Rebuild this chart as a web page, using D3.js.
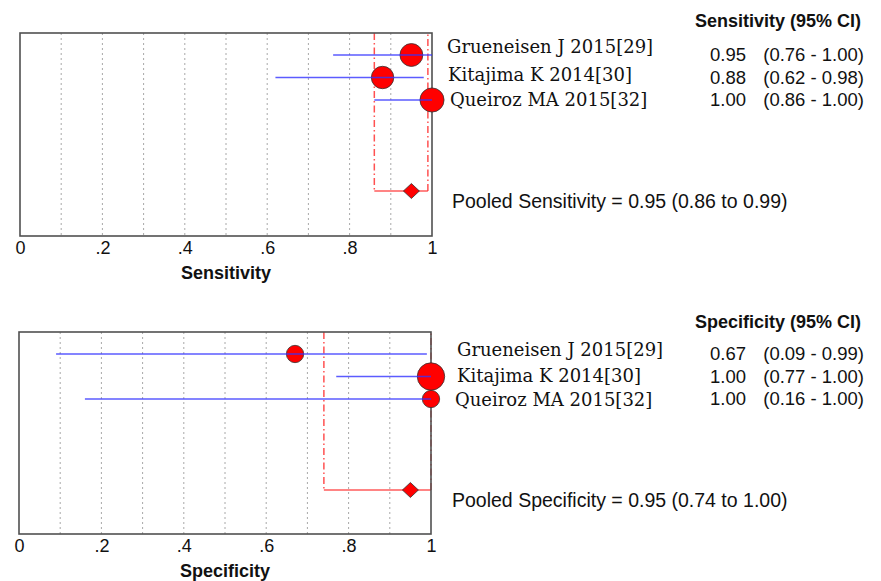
<!DOCTYPE html>
<html>
<head>
<meta charset="utf-8">
<script src="https://cdn.jsdelivr.net/npm/d3@7"></script>
<style>
  body { margin: 0; background: #fff; }
  .grat line { stroke: #a8a8a8; stroke-dasharray: 2,3; }
  .study { font-family: "DejaVu Serif", serif; font-size: 18px; fill: #111; }
  .val { font-family: "Liberation Sans", Arial, sans-serif; font-size: 18.5px; fill: #111; }
  .pooled { font-family: "Liberation Sans", Arial, sans-serif; font-size: 19.5px; fill: #111; }
  .hdr { font-family: "Liberation Sans", Arial, sans-serif; font-size: 18px; font-weight: bold; fill: #111; }
  .tick text { font-family: "Liberation Sans", Arial, sans-serif; font-size: 18px; fill: #111; }
  .xtitle { font-family: "Liberation Sans", Arial, sans-serif; font-size: 18px; font-weight: bold; fill: #111; }
</style>
</head>
<body>
<svg id="chart" width="881" height="581"></svg>
<script>
var studies = ["Grueneisen J 2015[29]", "Kitajima K 2014[30]", "Queiroz MA 2015[32]"];

var sens = [0.95, 0.88, 1.00];
var sensLo = [0.76, 0.62, 0.86];
var sensHi = [1.00, 0.98, 1.00];
var sensWeight = [1.08, 1.04, 1.2];
var pooledSens = [0.95, 0.86, 0.99];

var spec = [0.67, 1.00, 1.00];
var specLo = [0.09, 0.77, 0.16];
var specHi = [0.99, 1.00, 1.00];
var specWeight = [0.62, 1.55, 0.62];
var pooledSpec = [0.95, 0.74, 1.00];

var tickVals = [0, 0.2, 0.4, 0.6, 0.8, 1];
var gridVals = [0.1, 0.2, 0.3, 0.4, 0.5, 0.6, 0.7, 0.8, 0.9];

var svg = d3.select("#chart");
var fmt = d3.format(".2f");

function drawPanel(opt){
    var top = opt.top, bottom = opt.bottom;
    var x = d3.scaleLinear().domain([0, 1]).range([opt.left, opt.right]);
    var y = d3.scalePoint().domain(studies).range([opt.rowTop, opt.rowBottom]);
    var r = d3.scaleSqrt().domain([0, 1]).range([0, 11]);
    var g = svg.append("g");

    // dotted grid
    g.append("g").attr("class", "grat")
      .selectAll("line").data(gridVals).enter().append("line")
      .attr("x1", function(d){ return x(d); }).attr("x2", function(d){ return x(d); })
      .attr("y1", top).attr("y2", bottom);

    // pooled CI bracket
    var pl = opt.pooled;
    g.append("path")
      .attr("d", "M" + x(pl[1]) + "," + top + "V" + opt.pooledY + "M" + x(pl[2]) + "," + opt.pooledY + "V" + top)
      .attr("fill", "none").attr("stroke", "#f33").attr("stroke-opacity", 0.85)
      .attr("stroke-width", 1.5).attr("stroke-dasharray", "7,3,1.5,3");
    g.append("line")
      .attr("x1", x(pl[1])).attr("x2", x(pl[2]))
      .attr("y1", opt.pooledY).attr("y2", opt.pooledY)
      .attr("stroke", "#f33").attr("stroke-opacity", 0.8).attr("stroke-width", 1.4);

    // frame
    g.append("rect")
      .attr("x", opt.left).attr("y", top)
      .attr("width", opt.right - opt.left).attr("height", bottom - top)
      .attr("fill", "none").attr("stroke", "#505050").attr("stroke-width", 1.6);

    // circles first, CI lines on top
    g.selectAll(".pt").data(studies).enter().append("circle")
      .attr("class", "pt")
      .attr("cx", function(d, i){ return x(opt.est[i]); })
      .attr("cy", function(d){ return y(d); })
      .attr("r", function(d, i){ return r(opt.weight[i]); })
      .attr("fill", "#f00").attr("stroke", "#333").attr("stroke-width", 0.8);

    g.selectAll(".ci").data(studies).enter().append("line")
      .attr("class", "ci")
      .attr("x1", function(d, i){ return x(opt.lo[i]); })
      .attr("x2", function(d, i){ return x(opt.hi[i]); })
      .attr("y1", function(d){ return y(d); })
      .attr("y2", function(d){ return y(d); })
      .attr("stroke", "#33f").attr("stroke-opacity", 0.8).attr("stroke-width", 1.5);

    // diamond
    var dx = x(pl[0]), dy = opt.pooledY;
    g.append("path")
      .attr("d", "M" + (dx - 8) + "," + dy + "L" + dx + "," + (dy - 7.5) + "L" + (dx + 8) + "," + dy + "L" + dx + "," + (dy + 7.5) + "Z")
      .attr("fill", "#f00").attr("stroke", "#333").attr("stroke-width", 0.8);

    // axis
    var axis = g.append("g")
      .attr("transform", "translate(0," + bottom + ")")
      .call(d3.axisBottom(x).tickValues(tickVals).tickSize(0).tickPadding(5)
        .tickFormat(function(d){ return d == 0 ? "0" : d == 1 ? "1" : d3.format(".1f")(d).replace(/^0/, ""); }));
    axis.select(".domain").remove();

    g.append("text").attr("class", "xtitle")
      .attr("x", x(0.5)).attr("y", bottom + 43)
      .attr("text-anchor", "middle").text(opt.title);

    // right side text
    g.append("text").attr("class", "hdr")
      .attr("x", 861).attr("y", opt.hdrY).attr("text-anchor", "end")
      .text(opt.title + " (95% CI)");

    g.selectAll(".study").data(studies).enter().append("text")
      .attr("class", "study")
      .attr("x", function(d, i){ return opt.labelX[i]; })
      .attr("y", function(d, i){ return opt.labelY[i]; })
      .text(function(d){ return d; });

    g.selectAll(".est").data(studies).enter().append("text")
      .attr("class", "val")
      .attr("x", 746).attr("text-anchor", "end")
      .attr("y", function(d){ return y(d) + opt.valDy; })
      .text(function(d, i){ return fmt(opt.est[i]); });

    g.selectAll(".rng").data(studies).enter().append("text")
      .attr("class", "val")
      .attr("x", 864).attr("text-anchor", "end")
      .attr("y", function(d){ return y(d) + opt.valDy; })
      .text(function(d, i){ return "(" + fmt(opt.lo[i]) + " - " + fmt(opt.hi[i]) + ")"; });

    g.append("text").attr("class", "pooled")
      .attr("x", 452).attr("y", opt.pooledTextY)
      .text("Pooled " + opt.title + " = " + fmt(pl[0]) + " (" + fmt(pl[1]) + " to " + fmt(pl[2]) + ")");
}

drawPanel({
    title: "Sensitivity",
    left: 20, right: 432, top: 33, bottom: 236,
    rowTop: 55, rowBottom: 100, pooledY: 191,
    est: sens, lo: sensLo, hi: sensHi, weight: sensWeight, pooled: pooledSens,
    hdrY: 27, valDy: 6,
    labelX: [447, 448, 450], labelY: [53, 81, 106],
    pooledTextY: 208
});

drawPanel({
    title: "Specificity",
    left: 19, right: 431, top: 332, bottom: 534,
    rowTop: 354, rowBottom: 399, pooledY: 490,
    est: spec, lo: specLo, hi: specHi, weight: specWeight, pooled: pooledSpec,
    hdrY: 328, valDy: 6,
    labelX: [457, 457, 455], labelY: [356, 382, 406],
    pooledTextY: 507
});
</script>
</body>
</html>
